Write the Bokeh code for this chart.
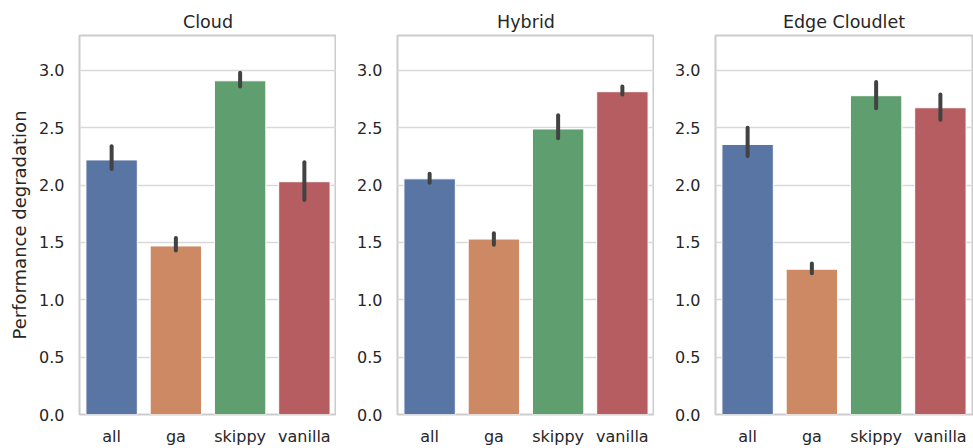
from bokeh.plotting import figure
from bokeh.layouts import row
from bokeh.models import ColumnDataSource, FactorRange, Range1d, FixedTicker, NumeralTickFormatter
from bokeh.embed import file_html
from bokeh.resources import INLINE

categories = ["all", "ga", "skippy", "vanilla"]
panel_titles = ["Cloud", "Hybrid", "Edge Cloudlet"]
colors = ["#5975a4", "#cc8963", "#5f9e6e", "#b55d60"]

cloud_mean = [2.22, 1.47, 2.91, 2.03]
cloud_lo = [2.14, 1.43, 2.86, 1.87]
cloud_hi = [2.34, 1.54, 2.98, 2.20]

hybrid_mean = [2.055, 1.53, 2.49, 2.815]
hybrid_lo = [2.02, 1.48, 2.41, 2.79]
hybrid_hi = [2.10, 1.58, 2.61, 2.86]

edge_mean = [2.355, 1.267, 2.78, 2.675]
edge_lo = [2.255, 1.232, 2.67, 2.57]
edge_hi = [2.50, 1.316, 2.90, 2.79]

y_ticks = [0.0, 0.5, 1.0, 1.5, 2.0, 2.5, 3.0]
y_max = 3.305

FONT = "DejaVu Sans"
TEXT = "#262626"

panels = [
    (panel_titles[0], cloud_mean, cloud_lo, cloud_hi),
    (panel_titles[1], hybrid_mean, hybrid_lo, hybrid_hi),
    (panel_titles[2], edge_mean, edge_lo, edge_hi),
]

figs = []
for i, (title, mean, lo, hi) in enumerate(panels):
    left = 79 if i == 0 else 61
    right = 1 if i == 2 else 0
    p = figure(
        x_range=FactorRange(*categories, range_padding=0),
        y_range=Range1d(0, y_max),
        width=left + 257 + right, height=448,
        min_border_left=left, min_border_right=right,
        min_border_top=35, min_border_bottom=10,
        output_backend="svg", toolbar_location=None, title=title,
    )
    src = ColumnDataSource(dict(cat=categories, mean=mean, lo=lo, hi=hi, color=colors))
    p.vbar(x="cat", top="mean", bottom=0, width=0.8, source=src,
           fill_color="color", line_color="white", line_width=1)
    p.segment(x0="cat", y0="lo", x1="cat", y1="hi", source=src,
              line_color="#424242", line_width=4, line_cap="round")

    p.title.align = "center"
    p.title.text_font = FONT
    p.title.text_font_size = "17.5px"
    p.title.text_font_style = "normal"
    p.title.text_color = TEXT
    p.title.standoff = 8

    p.background_fill_color = "white"
    p.border_fill_color = "white"
    p.outline_line_color = "#cccccc"
    p.outline_line_width = 2

    p.xgrid.visible = False
    p.ygrid.grid_line_color = "#d9d9d9"
    p.ygrid.grid_line_width = 1.4
    p.ygrid.ticker = FixedTicker(ticks=y_ticks)

    p.yaxis.ticker = FixedTicker(ticks=y_ticks)
    p.yaxis.formatter = NumeralTickFormatter(format="0.0")
    for ax in (p.xaxis[0], p.yaxis[0]):
        ax.axis_line_color = None
        ax.major_tick_line_color = None
        ax.minor_tick_line_color = None
        ax.major_tick_out = 0
        ax.major_tick_in = 0
        ax.major_label_text_font = FONT
        ax.major_label_text_font_size = "16px"
        ax.major_label_text_color = TEXT
        ax.axis_label_text_font = FONT
        ax.axis_label_text_font_size = "18px"
        ax.axis_label_text_font_style = "normal"
        ax.axis_label_text_color = TEXT
    p.yaxis.major_label_standoff = 15
    p.xaxis.major_label_standoff = 12
    if i == 0:
        p.yaxis.axis_label = "Performance degradation"
        p.yaxis.axis_label_standoff = 6
    figs.append(p)

layout = row(*figs, spacing=0)
open("out.html", "w").write(file_html(layout, INLINE))
